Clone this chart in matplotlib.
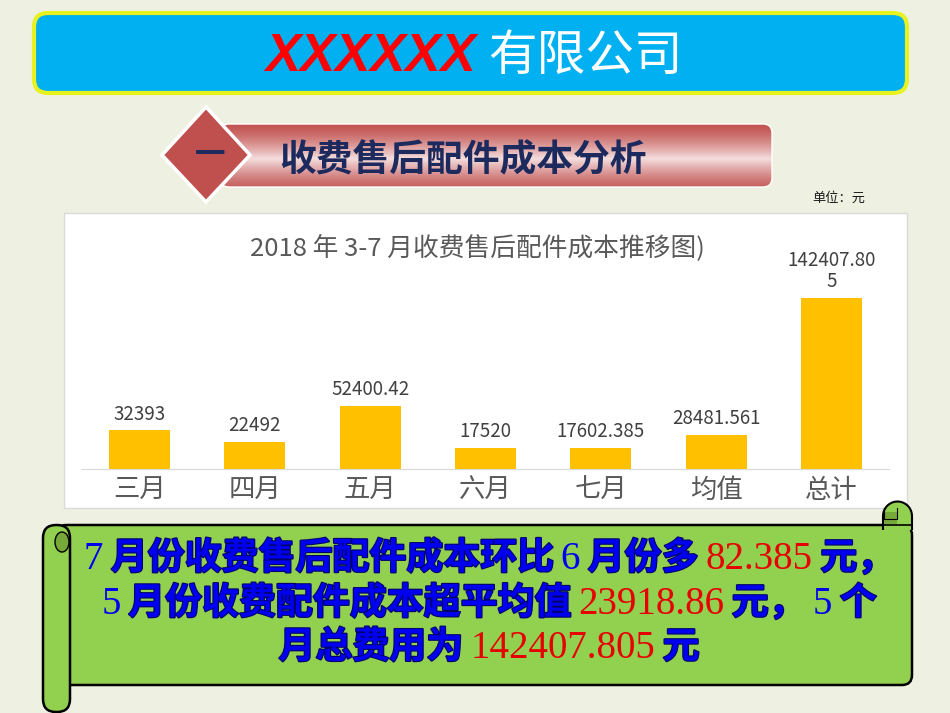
import numpy as np
import matplotlib
matplotlib.use("Agg")
import matplotlib.pyplot as plt
import matplotlib.patheffects as pe
from matplotlib.patches import FancyBboxPatch, Polygon, Rectangle, PathPatch, Ellipse
from matplotlib.path import Path

plt.rcParams['font.family'] = ['Noto Sans CJK SC', 'DejaVu Sans']

# chart data
categories = ["三月", "四月", "五月", "六月", "七月", "均值", "总计"]
costs = [32393, 22492, 52400.42, 17520, 17602.385, 28481.561, 142407.805]
cost_labels = ["32393", "22492", "52400.42", "17520", "17602.385", "28481.561", "142407.80\n5"]

chart_title = "2018 年 3-7 月收费售后配件成本推移图)"
section_title = "收费售后配件成本分析"
unit_text = "单位：元"

BLUE = "#0000F0"
RED = "#E60000"
# summary lines: (text, colour, font kind)
summary_lines = [
    [("7", BLUE, "n"), ("月份收费售后配件成本环比", BLUE, "c"), ("6", BLUE, "n"),
     ("月份多", BLUE, "c"), ("82.385", RED, "n"), ("元，", BLUE, "c")],
    [("5", BLUE, "n"), ("月份收费配件成本超平均值", BLUE, "c"), ("23918.86", RED, "n"),
     ("元，", BLUE, "c"), ("5", BLUE, "n"), ("个", BLUE, "c")],
    [("月总费用为", BLUE, "c"), ("142407.805", RED, "n"), ("元", BLUE, "c")],
]

W, H = 950, 713
fig = plt.figure(figsize=(W / 100, H / 100), dpi=100)
fig.patch.set_facecolor("#EEF1E1")

# full-figure axes in pixel units for the slide decoration
bg = fig.add_axes([0, 0, 1, 1])
bg.set_xlim(0, W)
bg.set_ylim(H, 0)
bg.axis("off")

# header
header = FancyBboxPatch((34, 13), 873, 80, boxstyle="round,pad=0,rounding_size=14",
                        fc="#00B0F0", ec="#E8F21E", lw=3, zorder=1)
bg.add_patch(header)
bg.text(476, 57, "XXXXXX", ha="right", va="center", fontsize=38, color="#FF0000",
        family="Liberation Sans", weight="bold", style="italic", zorder=3)
bg.text(488, 56, "有限公司", ha="left", va="center", fontsize=35, color="white", zorder=3)

# section banner with vertical gradient
banner = FancyBboxPatch((220, 124), 552, 63, boxstyle="round,pad=0,rounding_size=9",
                        fc="none", ec="white", lw=1, zorder=3)
bg.add_patch(banner)
t = np.linspace(0, 1, 80)
w = np.clip(1 - np.abs(t - 0.55) / 0.55, 0, 1) ** 1.4
c1 = np.array([0.76, 0.33, 0.32])
c2 = np.array([0.96, 0.87, 0.87])
grad = (c1[None, :] * (1 - w[:, None]) + c2[None, :] * w[:, None])[:, None, :]
im = bg.imshow(grad, extent=(220, 772, 187, 124), aspect="auto", zorder=2)
im.set_clip_path(banner)
bg.set_xlim(0, W)
bg.set_ylim(H, 0)

diamond = Polygon([(206, 107), (250, 155), (206, 202), (162, 155)], closed=True,
                  fc="#C0504D", ec="white", lw=2.5, zorder=4)
bg.add_patch(diamond)
bg.text(210, 155, "一", ha="center", va="center", fontsize=22, weight="bold",
        color="#1C2A5E", zorder=5)
bg.text(279, 161, section_title, ha="left", va="center", fontsize=26.5, weight="bold",
        color="#1C2A5E", zorder=5)
bg.text(812, 198, unit_text, ha="left", va="center", fontsize=9.5, color="#1a1a1a")

# chart box
bg.add_patch(Rectangle((64, 213), 843, 295, fc="white", ec="#D9D9D9", lw=1, zorder=1))
bg.text(477, 248, chart_title, ha="center", va="center", fontsize=18.5, color="#595959", zorder=3)

# bar chart
ax = fig.add_axes([82 / W, 1 - 469 / H, 807 / W, 207 / H])
ax.set_facecolor("none")
x = np.arange(len(categories))
ax.bar(x, costs, width=0.53, color="#FFC000", zorder=2)
ax.set_xlim(-0.5, len(categories) - 0.5)
ax.set_ylim(0, max(costs) * 1.21)
for s in ["top", "left", "right"]:
    ax.spines[s].set_visible(False)
ax.spines["bottom"].set_color("#D9D9D9")
ax.set_yticks([])
ax.set_xticks(x, categories, fontsize=19, color="#595959")
ax.tick_params(axis="x", length=0, pad=6)
for i, (v, lab) in enumerate(zip(costs, cost_labels)):
    ax.annotate(lab, (i, v), xytext=(0, 4), textcoords="offset points", ha="center",
                va="bottom", fontsize=13.5, color="#404040", linespacing=1.05)

# scroll shape
GREEN = "#92D050"
DARKG = "#76A83A"
body = FancyBboxPatch((56, 525), 856, 160, boxstyle="round,pad=0,rounding_size=10",
                      fc=GREEN, ec="black", lw=1.8, zorder=5)
bg.add_patch(body)
# right top roll
r = 14.5
verts = [(883, 530), (883, 516)]
ang = np.linspace(np.pi, 0, 20)
verts += [(897.5 + r * np.cos(a), 516 - r * np.sin(a)) for a in ang]
verts += [(912, 530)]
roll_r = PathPatch(Path(verts), fc=GREEN, ec="black", lw=1.5, zorder=6)
bg.add_patch(roll_r)
bg.add_patch(Rectangle((884, 512), 13, 12, fc=DARKG, ec="none", zorder=6))
bg.plot([884, 884, 897, 897], [508, 519, 519, 508], color="black", lw=0.8, zorder=7)
bg.plot([883, 912], [525, 525], color="black", lw=1.2, zorder=7)
# left roll
left_roll = FancyBboxPatch((43, 525), 27, 187, boxstyle="round,pad=0,rounding_size=13",
                           fc=GREEN, ec="black", lw=1.8, zorder=6)
bg.add_patch(left_roll)
bg.add_patch(Ellipse((62, 542), 14, 20, fc=DARKG, ec="black", lw=1, zorder=7))

# summary text, laid out run by run
fig.canvas.draw()
renderer = fig.canvas.get_renderer()
gap = 7.5
baselines = [569, 614, 658]
cx = 489
for runs, yb in zip(summary_lines, baselines):
    items = []
    for s, col, kind in runs:
        if kind == "n":
            tx = bg.text(0, yb, s, ha="left", va="baseline", fontsize=28, color=col,
                         family=["Liberation Serif", "DejaVu Serif"], zorder=8)
        else:
            tx = bg.text(0, yb, s, ha="left", va="baseline", fontsize=26.6, color=col,
                         weight="heavy", zorder=8,
                         path_effects=[pe.withStroke(linewidth=1.6, foreground="#00006A")])
        items.append((tx, tx.get_window_extent(renderer).width))
    total = sum(wd for _, wd in items) + gap * (len(items) - 1)
    xpos = cx - total / 2
    for tx, wd in items:
        tx.set_x(xpos)
        xpos += wd + gap

fig.savefig("out.png", dpi=100, facecolor=fig.get_facecolor())
